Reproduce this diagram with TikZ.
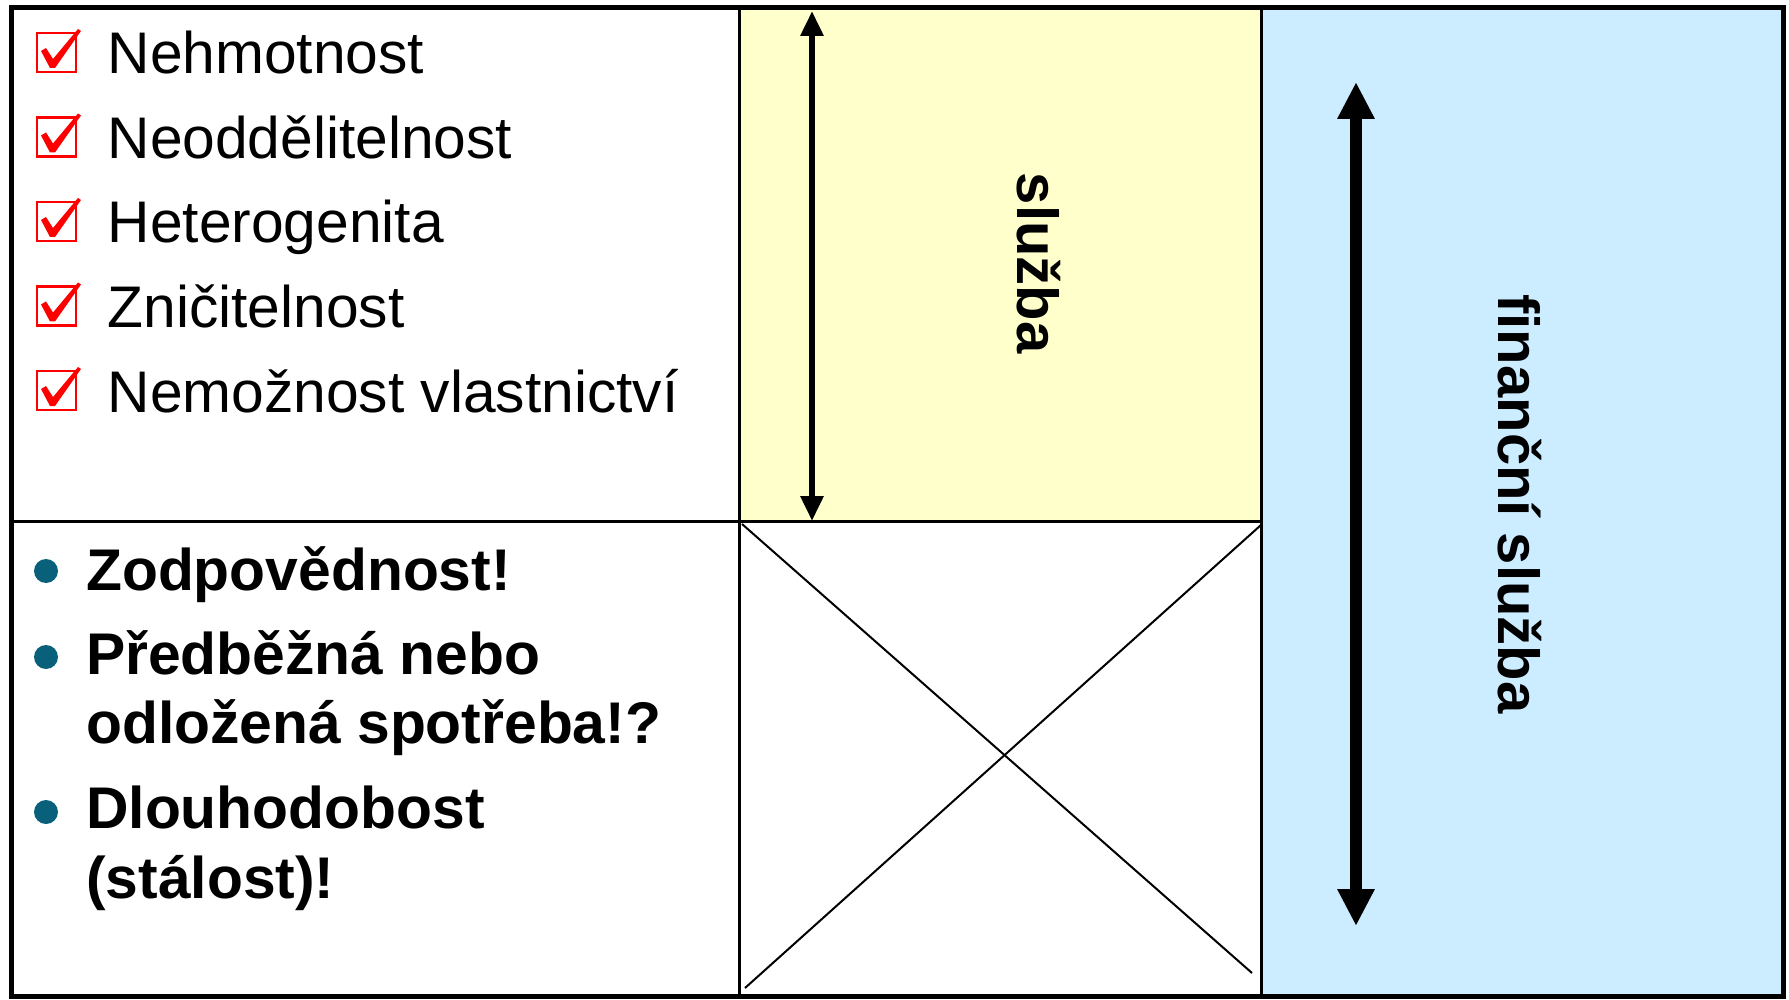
\documentclass[tikz,border=0pt]{standalone}
\usepackage{fontspec}
\setmainfont{Liberation Sans}
\usetikzlibrary{arrows.meta}
\definecolor{paleyellow}{RGB}{255,255,204}
\definecolor{paleblue}{RGB}{204,236,255}
\definecolor{bullteal}{RGB}{8,96,122}
\definecolor{tickred}{RGB}{255,0,0}
\begin{document}
\begin{tikzpicture}[x=1pt,y=-1pt,
  item/.style={anchor=base west, inner sep=0pt, font=\fontsize{58.7}{70}\selectfont},
  bolditem/.style={anchor=base west, inner sep=0pt, font=\fontsize{58.8}{70}\selectfont\bfseries},
  vlabel/.style={anchor=base, rotate=-90, inner sep=0pt, font=\fontsize{58}{70}\selectfont\bfseries},
  grid/.style={line width=3pt, black},
  cross/.style={line width=2pt, black},
  bulletdot/.style={circle, fill=bullteal, inner sep=0pt, minimum size=24pt},
  thinarrow/.style={line width=6pt, {Triangle[length=25pt,width=22pt]}-{Triangle[length=25pt,width=22pt]}},
  thickarrow/.style={line width=12pt, {Triangle[length=37pt,width=35pt]}-{Triangle[length=37pt,width=35pt]}},
  tickbox/.pic={
    \draw[tickred, line width=2.8pt] (0,0) rectangle (39,-39);
    \fill[tickred] (4,-21) -- (9,-24) -- (16,-13) -- (41,-43) -- (44,-41)
      -- (18,-4) -- (13,-4) -- cycle;
  }]
\useasboundingbox (0,0) rectangle (1789,1000);

% coloured panels
\fill[paleyellow] (739,8) rectangle (1261,521);
\fill[paleblue] (1261,8) rectangle (1782,997);

% inner grid lines
\coordinate (v1t) at (739,8);   \coordinate (v1b) at (739,997);
\coordinate (v2t) at (1261,8);  \coordinate (v2b) at (1261,997);
\coordinate (hl) at (11,521);   \coordinate (hr) at (1261,521);
\draw[grid] (v1t) -- (v1b);
\draw[grid] (v2t) -- (v2b);
\draw[grid] (hl) -- (hr);

% crossed-out cell
\coordinate (xa) at (742,524);  \coordinate (xb) at (1252,973);
\coordinate (xc) at (1261,525); \coordinate (xd) at (745,988);
\draw[cross] (xa) -- (xb);
\draw[cross] (xc) -- (xd);

% checked list
\pic at (37,72) {tickbox};
\pic at (37,156.5) {tickbox};
\pic at (37,241) {tickbox};
\pic at (37,325.5) {tickbox};
\pic at (37,410) {tickbox};
\node[item] (c1) at (107.5,74) {Nehmotnost};
\node[item] (c2) at (107.5,158.5) {Neoddělitelnost};
\node[item] (c3) at (107.5,243) {Heterogenita};
\node[item] (c4) at (107.5,327.5) {Zničitelnost};
\node[item] (c5) at (107.5,412) {Nemožnost vlastnictví};

% bullet list
\node[bulletdot] (b1) at (46,571) {};
\node[bulletdot] (b2) at (46,657) {};
\node[bulletdot] (b3) at (46,812) {};
\node[bolditem] (t1) at (86,590) {Zodpovědnost!};
\node[bolditem] (t2a) at (86,674) {Předběžná nebo};
\node[bolditem] (t2b) at (86,743) {odložená spotřeba!?};
\node[bolditem] (t3a) at (86,828) {Dlouhodobost};
\node[bolditem] (t3b) at (86,898) {(stálost)!};

% span arrows
\coordinate (a1t) at (812,11);  \coordinate (a1b) at (812,521);
\draw[thinarrow] (a1t) -- (a1b);
\coordinate (a2t) at (1356,82); \coordinate (a2b) at (1356,926);
\draw[thickarrow] (a2t) -- (a2b);

% vertical labels
\node[vlabel] (sl) at (1017,263) {služba};
\node[vlabel] (fs) at (1498,504) {finanční služba};

% outer frame
\draw[line width=5pt] (11,8) rectangle (1783,996);
\end{tikzpicture}
\end{document}
